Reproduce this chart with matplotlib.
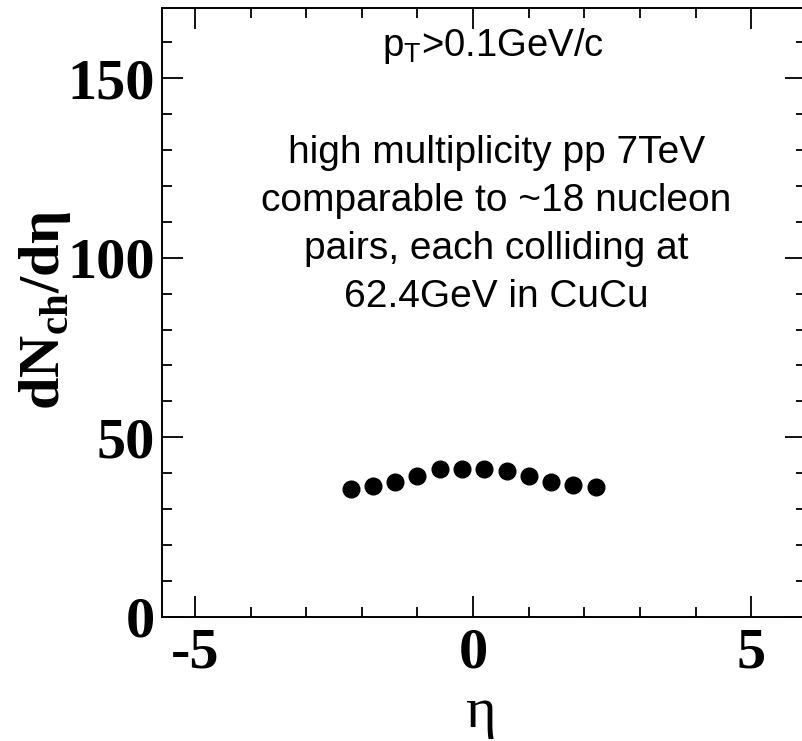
import matplotlib
matplotlib.use("Agg")
import matplotlib.pyplot as plt
from matplotlib.ticker import MultipleLocator, FixedLocator

plt.rcParams['mathtext.fontset'] = 'custom'
plt.rcParams['mathtext.rm'] = 'Liberation Serif:bold'
plt.rcParams['mathtext.bf'] = 'Liberation Serif:bold'
plt.rcParams['mathtext.sf'] = 'Liberation Sans'
plt.rcParams['axes.unicode_minus'] = False

eta = [-2.2, -1.8, -1.4, -1.0, -0.6, -0.2, 0.2, 0.6, 1.0, 1.4, 1.8, 2.2]
dndeta = [35.6, 36.5, 37.5, 39.3, 41.2, 41.2, 41.2, 40.7, 39.3, 37.5, 36.8, 36.0]

xticks = [-5, 0, 5]
yticks = [0, 50, 100, 150]

W, H = 803, 741
fig = plt.figure(figsize=(W / 100, H / 100), dpi=100)
L, R, T, B = 162, 806, 8, 616.7
ax = fig.add_axes([L / W, 1 - B / H, (R - L) / W, (B - T) / H])

ax.plot(eta, dndeta, 'o', color='black', ms=12, mec='black')

ax.set_xlim(-5.59, 5.98)
ax.set_ylim(0, 169.6)
ax.xaxis.set_major_locator(FixedLocator(xticks))
ax.yaxis.set_major_locator(FixedLocator(yticks))
ax.xaxis.set_minor_locator(MultipleLocator(1))
ax.yaxis.set_minor_locator(MultipleLocator(10))
ax.tick_params(which='both', direction='in', top=True, right=True, width=1.3, color='black')
ax.tick_params(which='major', length=15)
ax.tick_params(which='minor', length=7.5)
ax.tick_params(axis='y', pad=5)
ax.tick_params(axis='x', pad=8)
for sp in ax.spines.values():
    sp.set_linewidth(1.4)

for lab in ax.get_xticklabels() + ax.get_yticklabels():
    lab.set_fontfamily('Liberation Serif')
    lab.set_fontweight('bold')
    lab.set_fontsize(42)

fig.text(45 / W, 1 - 310 / H, r"dN$_{\mathrm{ch}}$/dη", rotation=90, ha='center', va='center',
         fontfamily='Liberation Serif', fontweight='bold', fontsize=42)
fig.text(480 / W, 1 - 713 / H, "η", ha='center', va='center',
         fontfamily='Liberation Serif', fontsize=42)

ax.text(0.35, 156.1, r"p$_\mathsf{T}$>0.1GeV/c", ha='center', va='baseline',
        fontfamily='Liberation Sans', fontsize=27.5)
ax.text(0.42, 86.3, "high multiplicity pp 7TeV\ncomparable to ~18 nucleon\npairs, each colliding at\n62.4GeV in CuCu",
        ha='center', va='baseline', fontfamily='Liberation Sans', fontsize=28, linespacing=1.43,
        multialignment='center')

fig.savefig("out.png", dpi=100)
